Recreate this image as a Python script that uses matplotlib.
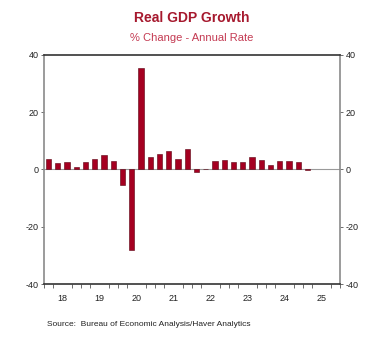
import matplotlib
matplotlib.use("Agg")
import matplotlib.pyplot as plt
import numpy as np
from matplotlib import font_manager

names = {f.name for f in font_manager.fontManager.ttflist}
narrow = "Liberation Sans Narrow" if "Liberation Sans Narrow" in names else "Liberation Sans"
plt.rcParams['font.family'] = ['Liberation Sans', 'DejaVu Sans']

years = ["18", "19", "20", "21", "22", "23", "24", "25"]
growth = [3.5, 2.2, 2.7, 0.7,
          2.7, 3.5, 4.9, 3.0,
          -5.3, -28.0, 35.3, 4.5,
          5.5, 6.3, 3.5, 7.3,
          -1.0, 0.3, 2.8, 3.3,
          2.7, 2.5, 4.4, 3.3,
          1.7, 3.0, 3.1, 2.5,
          -0.3]
yticks = [-40, -20, 0, 20, 40]

fig = plt.figure(figsize=(3.69, 3.41), dpi=100)
ax = fig.add_axes([0.119, 0.167, 0.802, 0.672])

n_q = len(years) * 4
x = np.arange(len(growth)) + 0.5
ax.axhline(0, color="#9a9a9a", lw=0.8, zorder=1)
ax.bar(x, growth, width=0.55, color="#A50021", edgecolor="#5a0010", linewidth=0.4, zorder=2)

ax.set_xlim(0, n_q)
ax.set_ylim(-40, 40)
# year labels as major ticks (no tick marks), quarter boundaries as minor tick marks
ax.set_xticks(np.arange(len(years)) * 4 + 2)
ax.set_xticklabels(years)
ax.set_xticks(np.arange(0, n_q + 1), minor=True)
ax.tick_params(axis='x', which='major', length=0, labelsize=6.5, pad=7, labelcolor="#222222")
ax.tick_params(axis='x', which='minor', length=3, width=0.6, color="#555555", direction='out')

ax.set_yticks(yticks)
ax.set_yticklabels([str(v) for v in yticks])
ax.tick_params(axis='y', which='major', length=2.5, width=0.6, labelsize=6.5, pad=1.5,
               left=True, right=True, labelleft=True, labelright=True, color="#555555",
               labelcolor="#222222")

for s in ["top", "bottom"]:
    ax.spines[s].set_color("#333333")
    ax.spines[s].set_linewidth(1.2)
for s in ["left", "right"]:
    ax.spines[s].set_color("#8a8a8a")
    ax.spines[s].set_linewidth(1.2)

cx = 0.52
fig.text(cx, 0.948, "Real GDP Growth", ha="center", va="center", fontsize=10,
         fontweight="bold", color="#A6192E", family=[narrow, "DejaVu Sans"])
fig.text(cx, 0.888, "% Change - Annual Rate", ha="center", va="center", fontsize=8,
         color="#C43A52", family=[narrow, "DejaVu Sans"])
fig.text(0.127, 0.047, "Source:  Bureau of Economic Analysis/Haver Analytics", ha="left",
         va="center", fontsize=6.0, color="#222222", family=[narrow, "DejaVu Sans"])

fig.savefig("out.png", dpi=100)
